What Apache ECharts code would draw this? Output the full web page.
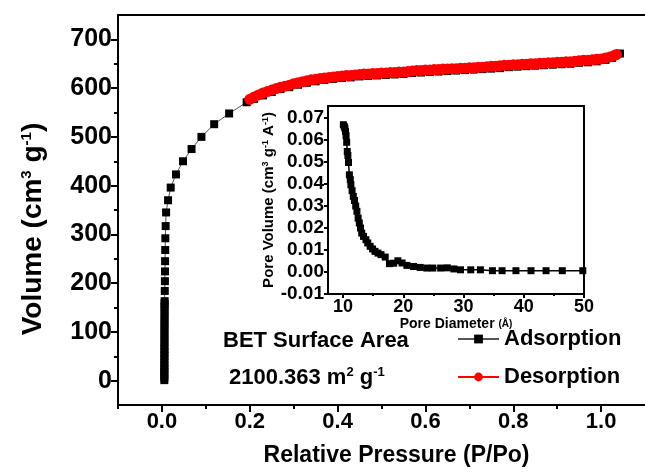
<!DOCTYPE html>
<html><head><meta charset="utf-8">
<script src="https://cdn.jsdelivr.net/npm/echarts@6/dist/echarts.min.js"></script>
<style>html,body{margin:0;padding:0;background:#fff}#c{width:645px;height:472px}</style>
</head><body><div id="c"></div>
<script>
// ---- Data ----
const adsX = [0.0055,0.0055,0.0055,0.0055,0.0056,0.0056,0.0056,0.0056,0.0057,0.0057,0.0057,0.0057,0.0058,0.0058,0.0058,0.0058,0.0059,0.0059,0.0059,0.0060,0.0060,0.0060,0.0061,
  0.0062,0.0065,0.0068,0.0070,0.0072,0.0075,0.0078,0.0085,0.0095,0.014,0.020,0.032,0.048,0.0675,0.090,0.119,0.153,0.193,
  0.21,0.23,0.25,0.27,0.29,0.31,0.33,0.35,0.37,0.39,0.41,0.43,0.45,0.47,0.49,0.51,0.53,0.55,0.57,0.59,0.61,0.63,0.65,0.67,0.69,0.71,0.73,0.75,0.77,0.79,0.81,0.83,0.85,0.87,0.89,0.91,0.93,0.95,0.97,0.99,1.01,1.025,1.043];
const adsY = [1,6,12,18,24,30,37,44,51,58,65,72,80,88,96,104,112,120,128,136,144,152,158,
  163,184,204,224,245,268,292,317,345,370,396,423,450,475,500,526,548,571,
  578,585,592,598,602,607,611,614,617,619,621,622,624,625,626,627,628,629,631,632,633,634,635,636,637,638,639,640,641,643,644,645,646,647,648,649,650,652,653,655,658,662,671];
const desX = [0.20,0.21,0.22,0.23,0.24,0.25,0.26,0.27,0.28,0.29,0.30,0.31,0.32,0.33,0.34,0.35,0.36,0.37,0.38,0.39,
  0.40,0.41,0.42,0.43,0.44,0.45,0.46,0.47,0.48,0.49,0.50,0.51,0.52,0.53,0.54,0.55,0.56,0.57,0.58,0.59,
  0.60,0.61,0.62,0.63,0.64,0.65,0.66,0.67,0.68,0.69,0.70,0.71,0.72,0.73,0.74,0.75,0.76,0.77,0.78,0.79,
  0.80,0.81,0.82,0.83,0.84,0.85,0.86,0.87,0.88,0.89,0.90,0.91,0.92,0.93,0.94,0.95,0.96,0.97,0.98,0.99,
  1.00,1.01,1.02,1.03,1.035];
const desY = [577,582,586,590,593,596,599,602,604,606,609,611,613,615,617,618,620,621,622,623,
  624,625,626,626,627,628,629,629,630,630,631,631,632,632,633,633,634,635,636,636,
  637,637,638,638,639,639,640,640,641,641,642,642,643,643,644,645,645,646,647,647,
  648,648,649,649,650,650,651,651,652,652,653,653,654,654,655,656,657,657,658,659,
  660,662,664,667,669];
const poreX = [10.05,10.2,10.3,10.4,10.5,10.6,10.7,10.8,10.9,11.05,11.2,11.3,11.5,11.7,11.9,12.1,12.3,12.5,12.7,12.9,13.1,13.4,13.8,14.1,14.5,14.9,15.3,15.8,16.3,17.0,17.7,18.4,19.1,19.8,20.6,21.7,22.8,23.9,24.9,26.2,27.3,28.4,29.5,31.2,32.8,34.8,36.4,38.7,41.2,43.7,46.4,49.8];
const poreY = [0.0670,0.0662,0.0654,0.0640,0.0620,0.0590,0.0548,0.0530,0.0498,0.0442,0.0420,0.0397,0.0370,0.0344,0.0325,0.0300,0.0276,0.0245,0.0223,0.0200,0.0177,0.0162,0.0147,0.0132,0.0117,0.0105,0.0094,0.0086,0.0079,0.0068,0.0038,0.0040,0.0051,0.0041,0.0030,0.0025,0.0021,0.0018,0.0018,0.0018,0.0019,0.0014,0.0010,0.0010,0.0010,0.0006,0.0006,0.0006,0.0006,0.0006,0.0006,0.0006];
const mainXTicks = [0, 0.2, 0.4, 0.6, 0.8, 1.0];
const mainXMinor = [-0.1, 0.1, 0.3, 0.5, 0.7, 0.9];
const mainYTicks = [0, 100, 200, 300, 400, 500, 600, 700];
const mainYMinor = [50, 150, 250, 350, 450, 550, 650];
const insetXTicks = [10, 20, 30, 40, 50];
const insetXMinor = [15, 25, 35, 45];
const insetYTicks = [-0.01, 0, 0.01, 0.02, 0.03, 0.04, 0.05, 0.06, 0.07];
const seriesNames = ['Adsorption', 'Desorption'];

// ---- Chart ----
const FONT = 'Liberation Sans, Arial, sans-serif';
const chart = echarts.init(document.getElementById('c'), null, {renderer: 'canvas'});
const lineStyle = {color: '#000', width: 2};
function frameAxis(extra) {
  return Object.assign({
    type: 'value', axisLine: {show: true, onZero: false, lineStyle: lineStyle},
    axisTick: {show: false}, axisLabel: {show: false}, splitLine: {show: false}
  }, extra);
}
function tickAxis(extra, ticks, len, labels, fs, fmt, margin) {
  return Object.assign({
    type: 'value',
    axisLine: {show: labels, onZero: false, lineStyle: lineStyle},
    axisTick: {show: true, inside: false, length: len, customValues: ticks, lineStyle: {color: '#000', width: 2}},
    axisLabel: labels ? {show: true, customValues: ticks, color: '#000', fontFamily: FONT, fontWeight: 'bold', fontSize: fs, margin: margin || 6, formatter: fmt} : {show: false},
    splitLine: {show: false}
  }, extra);
}
const option = {
  animation: false,
  backgroundColor: '#fff',
  grid: [
    {left: 118, top: 15, width: 528, height: 390},
    {left: 328, top: 106, width: 256, height: 188}
  ],
  xAxis: [
    tickAxis({gridIndex: 0, position: 'bottom', min: -0.1, max: 1.1,
      name: 'Relative Pressure (P/Po)', nameLocation: 'middle', nameGap: 39,
      nameTextStyle: {color: '#000', fontFamily: FONT, fontWeight: 'bold', fontSize: 23, padding: [0, 0, 0, 30]}},
      mainXTicks, 7, true, 22, v => v.toFixed(1)),
    tickAxis({gridIndex: 0, position: 'bottom', min: -0.1, max: 1.1}, mainXMinor, 4, false),
    frameAxis({gridIndex: 0, position: 'top', min: -0.1, max: 1.1}),
    tickAxis({gridIndex: 1, position: 'bottom', min: 7.5, max: 50,
      name: 'Pore Diameter {s|(Å)}', nameLocation: 'middle', nameGap: 20,
      nameTextStyle: {color: '#000', fontFamily: FONT, fontWeight: 'bold', fontSize: 14,
        rich: {s: {fontFamily: FONT, fontWeight: 'bold', fontSize: 10, color: '#000'}}}},
      insetXTicks, 4, true, 18, v => String(v), 4),
    tickAxis({gridIndex: 1, position: 'bottom', min: 7.5, max: 50}, insetXMinor, 2, false),
    frameAxis({gridIndex: 1, position: 'top', min: 7.5, max: 50})
  ],
  yAxis: [
    tickAxis({gridIndex: 0, position: 'left', min: -50, max: 750,
      name: 'Volume (cm{sup|3} g{sup|-1})', nameLocation: 'middle', nameRotate: 90, nameGap: 71,
      nameTextStyle: {color: '#000', fontFamily: FONT, fontWeight: 'bold', fontSize: 28, padding: [0, 38, 0, 0],
        rich: {sup: {fontFamily: FONT, fontWeight: 'bold', fontSize: 15, color: '#000', verticalAlign: 'top', padding: [0, 0, 13, 0]}}}},
      mainYTicks, 7, true, 25, v => String(v)),
    tickAxis({gridIndex: 0, position: 'left', min: -50, max: 750}, mainYMinor, 4, false),
    tickAxis({gridIndex: 1, position: 'left', min: -0.01, max: 0.0755,
      name: 'Pore Volume (cm{sup|3} g{sup|-1} A{sup|-1})', nameLocation: 'middle', nameRotate: 90, nameGap: 52,
      nameTextStyle: {color: '#000', fontFamily: FONT, fontWeight: 'bold', fontSize: 15,
        rich: {sup: {fontFamily: FONT, fontWeight: 'bold', fontSize: 9, color: '#000', verticalAlign: 'top', padding: [0, 0, 6, 0]}}}},
      insetYTicks, 4, true, 19, v => v.toFixed(2), 4),
    frameAxis({gridIndex: 1, position: 'right', min: -0.01, max: 0.0755})
  ],
  legend: {
    orient: 'vertical', left: 457, top: 328, padding: 0, itemGap: 16, itemWidth: 41, itemHeight: 11,
    data: seriesNames,
    textStyle: {color: '#000', fontFamily: FONT, fontWeight: 'bold', fontSize: 22}
  },
  graphic: [
    {type: 'text', left: 223, top: 330, style: {text: 'BET Surface Area', fill: '#000', font: 'bold 22px ' + FONT}},
    {type: 'text', left: 229, top: 366, style: {
      text: '2100.363 m{sup|2} g{sup|-1}', fill: '#000', font: 'bold 22px ' + FONT,
      rich: {sup: {font: 'bold 13px ' + FONT, fill: '#000', verticalAlign: 'top', padding: [0, 0, 10, 0]}}}}
  ],
  series: [
    {name: seriesNames[0], type: 'line', xAxisIndex: 0, yAxisIndex: 0,
      data: adsX.map((x, i) => [x, adsY[i]]),
      symbol: 'rect', symbolSize: 8, showAllSymbol: true,
      itemStyle: {color: '#000'}, lineStyle: {color: '#555', width: 1}},
    {name: seriesNames[1], type: 'line', xAxisIndex: 0, yAxisIndex: 0,
      data: desX.map((x, i) => [x, desY[i]]),
      symbol: 'circle', symbolSize: 11, showAllSymbol: true,
      itemStyle: {color: '#ff0000'}, lineStyle: {color: '#ff0000', width: 1}},
    {name: 'PSD', type: 'line', xAxisIndex: 3, yAxisIndex: 2,
      data: poreX.map((x, i) => [x, poreY[i]]),
      symbol: 'rect', symbolSize: 7, showAllSymbol: true,
      itemStyle: {color: '#000'}, lineStyle: {color: '#000', width: 1.5}}
  ]
};
chart.setOption(option);
</script>
</body></html>
